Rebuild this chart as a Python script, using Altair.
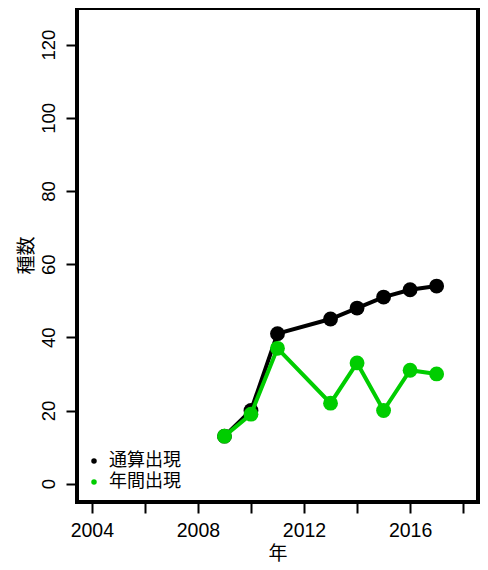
import altair as alt
import pandas as pd

years = [2009, 2010, 2011, 2013, 2014, 2015, 2016, 2017]
total = [13, 20, 41, 45, 48, 51, 53, 54]
annual = [13, 19, 37, 22, 33, 20, 31, 30]
series = ["通算出現", "年間出現"]
colors = ["#000000", "#00CD00"]
x_ticks = [2004, 2006, 2008, 2010, 2012, 2014, 2016, 2018]
y_ticks = [0, 20, 40, 60, 80, 100, 120]

FONT = "Liberation Sans, Noto Sans CJK JP, sans-serif"

df_total = pd.DataFrame({"year": years, "n": total, "s": series[0]})
df_annual = pd.DataFrame({"year": years, "n": annual, "s": series[1]})
df_legend = pd.DataFrame({"year": [years[0], years[0]], "n": [total[0], annual[0]], "s": series})

xs = alt.Scale(domain=[2003.44, 2018.56], nice=False, zero=False)
ys = alt.Scale(domain=[-5, 130], nice=False, zero=False)

xaxis = alt.Axis(values=x_ticks, labelExpr="datum.value % 4 == 0 ? datum.value : ''",
                 tickSize=11, tickWidth=2, tickColor="black", domain=False, grid=False,
                 labelFontSize=19.5, labelFont=FONT, labelColor="black", labelPadding=8,
                 title="年", titleFontSize=19, titleFont=FONT, titleFontWeight="normal",
                 titleColor="black", titlePadding=5, labelFlush=False, labelOverlap=False)
yaxis = alt.Axis(values=y_ticks, tickSize=11, tickWidth=2, tickColor="black", domain=False, grid=False,
                 labelAngle=-90, labelAlign="center", labelBaseline="bottom",
                 labelFontSize=18.5, labelFont=FONT, labelColor="black", labelPadding=8,
                 title="種数", titleFontSize=19, titleFont=FONT, titleFontWeight="normal",
                 titleColor="black", titlePadding=3, labelFlush=False, labelOverlap=False)

X = alt.X("year:Q", scale=xs, axis=xaxis)
Y = alt.Y("n:Q", scale=ys, axis=yaxis)

legend_layer = alt.Chart(df_legend).mark_point(filled=True, size=30, opacity=1).encode(
    x=X, y=Y,
    color=alt.Color("s:N", scale=alt.Scale(domain=series, range=colors),
                    legend=alt.Legend(title=None, orient="none", legendX=8, legendY=444,
                                      symbolType="circle", symbolSize=30, symbolStrokeWidth=0,
                                      labelFontSize=18, labelFont=FONT, labelColor="black",
                                      labelOffset=6, rowPadding=3, padding=0)),
)

def series_layers(df, col):
    line = alt.Chart(df).mark_line(strokeWidth=4, color=col).encode(x=X, y=Y)
    pts = alt.Chart(df).mark_point(filled=True, size=220, opacity=1, color=col).encode(x=X, y=Y)
    return [line, pts]

chart = alt.layer(legend_layer, *series_layers(df_total, colors[0]), *series_layers(df_annual, colors[1])).properties(
    width=401, height=494,
    background="white",
    autosize=alt.AutoSizeParams(type="none"),
    padding={"left": 69, "top": 0, "right": 2, "bottom": 68},
).configure_view(stroke="black", strokeWidth=4, fill="white")

chart.save("out.html", embed_options={"renderer": "svg", "actions": False})
